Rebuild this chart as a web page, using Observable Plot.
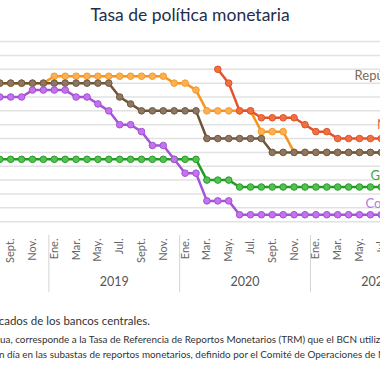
<!DOCTYPE html>
<html><head><meta charset="utf-8">
<script src="https://cdn.jsdelivr.net/npm/d3@7"></script>
<script src="https://cdn.jsdelivr.net/npm/@observablehq/plot@0.6"></script>
<style>
html,body{margin:0;padding:0;background:#fff;width:380px;height:380px;overflow:hidden;position:relative;font-family:Lato,sans-serif;}
#title{position:absolute;left:0;top:5px;width:380px;text-align:center;font-size:17.5px;line-height:20px;color:#1f2d4a;}
#chart{position:absolute;left:-100px;top:0;width:600px;height:300px;}
#chart svg{max-width:none !important;width:600px;height:300px;}
.foot{position:absolute;white-space:nowrap;color:#333;line-height:1.2;}
</style></head><body>
<div id="title">Tasa de política monetaria</div>
<div id="chart"></div>
<div class="foot" style="right:230px;top:314px;font-size:11.5px">Fuente: Elaborado con datos publicados de los bancos centrales.</div>
<div class="foot" style="left:0;top:334px;font-size:9.9px"><span style="position:absolute;right:100%">Nota: Para Nicarag</span>ua, corresponde a la Tasa de Referencia de Reportos Monetarios (TRM) que el BCN utiliza como referencia para sus operaciones</div>
<div class="foot" style="left:7px;top:349px;font-size:9.9px"><span style="position:absolute;right:100%">de reportos a un&nbsp;</span>día en las subastas de reportos monetarios, definido por el Comité de Operaciones de Mercado Abierto (COMA).</div>
<script>
const months = ["2018-07","2018-08","2018-09","2018-10","2018-11","2018-12",
  "2019-01","2019-02","2019-03","2019-04","2019-05","2019-06","2019-07","2019-08","2019-09","2019-10","2019-11","2019-12",
  "2020-01","2020-02","2020-03","2020-04","2020-05","2020-06","2020-07","2020-08","2020-09","2020-10","2020-11","2020-12",
  "2021-01","2021-02","2021-03","2021-04","2021-05","2021-06","2021-07","2021-08"];
const guatemala = [2.75,2.75,2.75,2.75,2.75,2.75, 2.75,2.75,2.75,2.75,2.75,2.75,2.75,2.75,2.75,2.75,2.75,2.75,
  2.75,2.75,2.0,2.0,2.0,1.75,1.75,1.75,1.75,1.75,1.75,1.75, 1.75,1.75,1.75,1.75,1.75,1.75,1.75,1.75];
const costaRica = [5.0,5.0,5.0,5.0,5.25,5.25, 5.25,5.25,5.0,5.0,4.75,4.5,4.0,4.0,3.75,3.25,3.25,2.75,
  2.25,2.25,1.25,1.25,1.25,0.75,0.75,0.75,0.75,0.75,0.75,0.75, 0.75,0.75,0.75,0.75,0.75,0.75,0.75,0.75];
const dominicana = [5.5,5.5,5.5,5.5,5.5,5.5, 5.5,5.5,5.5,5.5,5.5,5.5,5.0,4.75,4.5,4.5,4.5,4.5,
  4.5,4.5,3.5,3.5,3.5,3.5,3.5,3.5,3.0,3.0,3.0,3.0, 3.0,3.0,3.0,3.0,3.0,3.0,3.0,3.0];
const honduras = [5.5,5.5,5.5,5.5,5.5,5.5, 5.75,5.75,5.75,5.75,5.75,5.75,5.75,5.75,5.75,5.75,5.75,5.5,
  5.5,5.25,4.5,4.5,4.5,4.5,4.5,3.75,3.75,3.75,3.0,3.0, 3.0,3.0,3.0,3.0,3.0,3.0,3.0,3.0];
const nicaragua = [null,null,null,null,null,null, null,null,null,null,null,null,null,null,null,null,null,null,
  null,null,null,6.0,5.5,4.5,4.5,4.25,4.25,4.25,4.25,4.0, 3.75,3.75,3.5,3.5,3.5,3.5,3.5,3.5];
const monthNames = ["Ene.","Feb.","Mar.","Abr.","May.","Jun.","Jul.","Ago.","Sept.","Oct.","Nov.","Dic."];
const tickMonths = ["2018-09","2018-11","2019-01","2019-03","2019-05","2019-07","2019-09","2019-11",
  "2020-01","2020-03","2020-05","2020-07","2020-09","2020-11","2021-01","2021-03","2021-05","2021-07"];
const years = ["2019","2020","2021"];
const yGrid = [0.5,1,1.5,2,2.5,3,3.5,4,4.5,5,5.5,6,6.5,7];
const seriesLabels = [
  {name:"República Dominicana", month:"2021-04", v:5.78},
  {name:"Nicaragua", month:"2021-07", v:4.0},
  {name:"Guatemala", month:"2021-06", v:2.17},
  {name:"Costa Rica", month:"2021-05", v:1.16}
];

const mIdx = s => { const [y, m] = s.split("-").map(Number); return (y - 2019) * 12 + (m - 1); };
const rows = arr => months.map((s, i) => ({m: mIdx(s), v: arr[i]})).filter(d => d.v != null);
const labelOffset = {"República Dominicana": 0.55, "Nicaragua": -0.4, "Guatemala": 0.0, "Costa Rica": 0.55};

const series = [
  {data: rows(honduras), line:"#f7941d", fill:"#fbb056", stroke:"#f59b2b"},
  {data: rows(guatemala), line:"#1f9e1f", fill:"#52c152", stroke:"#2a9d2a"},
  {data: rows(nicaragua), line:"#e2532b", fill:"#f0703f", stroke:"#df552c"},
  {data: rows(dominicana), line:"#6e5537", fill:"#8f7660", stroke:"#6e5a45"},
  {data: rows(costaRica), line:"#a355d6", fill:"#c672f0", stroke:"#a052d0"}
];
const labelColors = {"República Dominicana":"#7d6a53","Nicaragua":"#ec6a3c","Guatemala":"#35a835","Costa Rica":"#b577dd"};

const step = 10.9, x0 = 153.8; // svg px of Jan 2019 (page 53.8 + 100 shift)
const marks = [
  Plot.ruleY(yGrid, {stroke:"#e2e2e2", strokeWidth:1.5}),
  Plot.ruleX(years.map((y, i) => i * 12 - 0.5), {stroke:"#d4d4d4", strokeWidth:1, insetTop:235, insetBottom:-57}),
  Plot.axisX(tickMonths.map(mIdx), {anchor:"bottom", tickSize:0, tickPadding:3, tickRotate:-90, fontSize:11,
    color:"#666", label:null, tickFormat: m => monthNames[((m % 12) + 12) % 12]}),
  Plot.text(years.map((y, i) => ({year:y, m:i * 12 + 5.5})), {x:"m", text:"year", frameAnchor:"bottom", dy:50, fontSize:12.5, fill:"#555"})
];
for (const s of series) {
  marks.push(Plot.line(s.data, {x:"m", y:"v", stroke:s.line, strokeWidth:2.5}));
  marks.push(Plot.dot(s.data, {x:"m", y:"v", r:3.3, fill:s.fill, stroke:s.stroke, strokeWidth:1}));
}
for (const l of seriesLabels) {
  marks.push(Plot.text([l], {x: d => mIdx(d.month) + labelOffset[d.name], y:"v", text:"name", textAnchor:"start",
    fontSize:13, fill:labelColors[l.name]}));
}
const chart = Plot.plot({
  width: 600, height: 300, marginTop: 0, marginBottom: 65, marginLeft: 0, marginRight: 0,
  style: {fontFamily: "Lato, sans-serif", background: "transparent", maxWidth: "none"},
  x: {type: "linear", domain: [-12, 36], range: [x0 - 12 * step, x0 + 36 * step], axis: null},
  y: {domain: [0, 7], range: [235, 235 - 7 * 27.7], axis: null},
  marks
});
document.getElementById("chart").appendChild(chart);
</script>
</body></html>
